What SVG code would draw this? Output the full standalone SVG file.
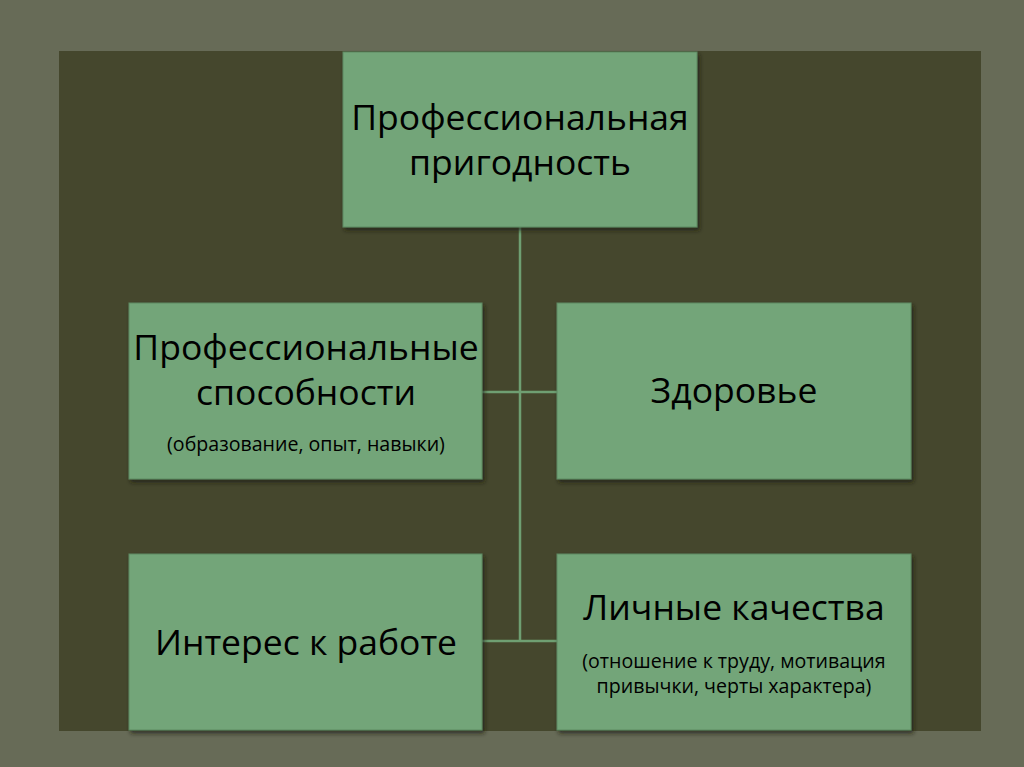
<svg xmlns="http://www.w3.org/2000/svg" width="1024" height="767" viewBox="0 0 1024 767">
  <defs>
    <filter id="sh" x="-5%" y="-5%" width="115%" height="120%">
      <feDropShadow dx="2" dy="3" stdDeviation="2" flood-color="#1e1f12" flood-opacity="0.7"/>
    </filter>
  </defs>
  <style>
    .box { fill: #73a579; stroke: #5f8a63; stroke-width: 1; filter: url(#sh); }
    .big { font-family: "Open Sans", "Noto Sans", sans-serif; font-size: 35.5px; fill: #000; text-anchor: middle; }
    .small { font-family: "Open Sans", "Noto Sans", sans-serif; font-size: 19.6px; fill: #000; text-anchor: middle; }
    .conn { stroke: #6f9f72; stroke-width: 2.5; fill: none; }
  </style>
  <rect x="0" y="0" width="1024" height="767" fill="#676b57"/>
  <rect x="59" y="51" width="922" height="680" fill="#45472d"/>
  <g id="connectors">
    <line class="conn" x1="520" y1="227" x2="520" y2="641"/>
    <line class="conn" x1="482" y1="392" x2="557" y2="392"/>
    <line class="conn" x1="482" y1="641" x2="557" y2="641"/>
  </g>
  <g id="node-top">
    <rect class="box" x="343" y="52" width="354" height="175"/>
    <text class="big" x="520" y="130">Профессиональная</text>
    <text class="big" x="520" y="175">пригодность</text>
  </g>
  <g id="node-abilities">
    <rect class="box" x="129" y="303" width="353" height="176"/>
    <text class="big" x="306" y="360">Профессиональные</text>
    <text class="big" x="306" y="405">способности</text>
    <text class="small" x="306" y="451">(образование, опыт, навыки)</text>
  </g>
  <g id="node-health">
    <rect class="box" x="557" y="303" width="354" height="176"/>
    <text class="big" x="734" y="403">Здоровье</text>
  </g>
  <g id="node-interest">
    <rect class="box" x="129" y="554" width="353" height="176"/>
    <text class="big" x="306" y="655">Интерес к работе</text>
  </g>
  <g id="node-personal">
    <rect class="box" x="557" y="554" width="354" height="176"/>
    <text class="big" x="734" y="620">Личные качества</text>
    <text class="small" x="734" y="668">(отношение к труду, мотивация</text>
    <text class="small" x="734" y="693">привычки, черты характера)</text>
  </g>
</svg>
